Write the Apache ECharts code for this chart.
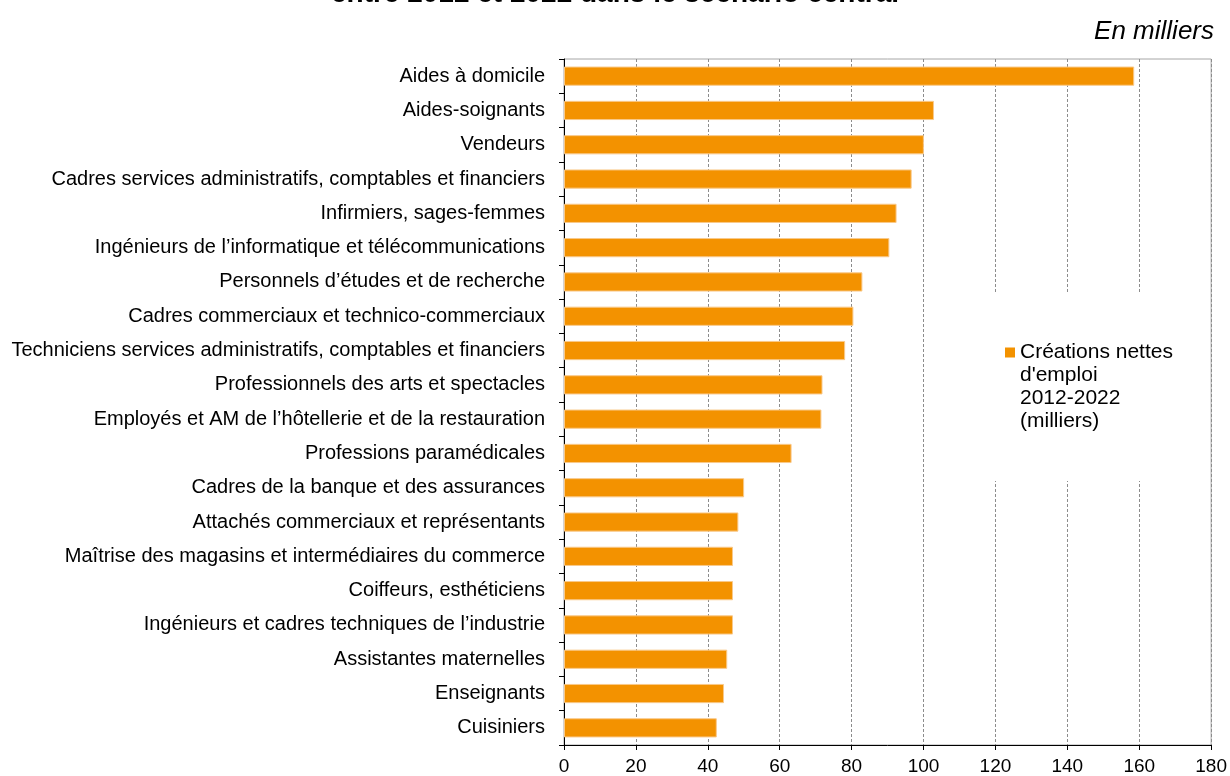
<!DOCTYPE html>
<html>
<head>
<meta charset="utf-8">
<script src="https://cdn.jsdelivr.net/npm/echarts@6/dist/echarts.min.js"></script>
<style>
html,body{margin:0;padding:0;background:#fff;}
#chart{width:1230px;height:776px;}
</style>
</head>
<body>
<div id="chart"></div>
<script>
const titleText = "entre 2012 et 2022 dans le scénario central";
const unitText = "En milliers";
const seriesName = "Créations nettes\nd'emploi\n2012-2022\n(milliers)";
const categories = [
  "Aides à domicile",
  "Aides-soignants",
  "Vendeurs",
  "Cadres services administratifs, comptables et financiers",
  "Infirmiers, sages-femmes",
  "Ingénieurs de l’informatique et télécommunications",
  "Personnels d’études et de recherche",
  "Cadres commerciaux et technico-commerciaux",
  "Techniciens services administratifs, comptables et financiers",
  "Professionnels des arts et spectacles",
  "Employés et AM de l’hôtellerie et de la restauration",
  "Professions paramédicales",
  "Cadres de la banque et des assurances",
  "Attachés commerciaux et représentants",
  "Maîtrise des magasins et intermédiaires du commerce",
  "Coiffeurs, esthéticiens",
  "Ingénieurs et cadres techniques de l’industrie",
  "Assistantes maternelles",
  "Enseignants",
  "Cuisiniers"
];
const values = [158.6, 102.9, 100.1, 96.7, 92.5, 90.5, 83.0, 80.5, 78.2, 71.9, 71.6, 63.3, 50.1, 48.5, 47.0, 47.0, 47.0, 45.4, 44.5, 42.5];
const xTicks = [0, 20, 40, 60, 80, 100, 120, 140, 160, 180];

const FONT = "Liberation Sans, Arial, sans-serif";
const chart = echarts.init(document.getElementById('chart'), null, {renderer: 'canvas'});
chart.setOption({
  animation: false,
  backgroundColor: '#fff',
  textStyle: {fontFamily: FONT},
  title: [
    {text: titleText, left: 'center', top: -25,
     textStyle: {fontFamily: FONT, fontSize: 28, fontWeight: 'bold', color: '#000'}},
    {text: unitText, right: 11, top: 14,
     textStyle: {fontFamily: FONT, fontSize: 26, fontStyle: 'italic', fontWeight: 'normal', color: '#000'}}
  ],
  grid: {left: 564, right: 17, top: 59, bottom: 30, show: true, borderColor: '#a6a6a6', borderWidth: 1, backgroundColor: 'transparent'},
  legend: {
    left: 1005, top: 272, padding: 0,
    icon: 'rect', itemWidth: 10, itemHeight: 10, itemGap: 5,
    itemStyle: {borderWidth: 0, color: '#F39200'},
    data: [seriesName],
    formatter: function (name) { return '\n\n\n' + name; },
    textStyle: {fontFamily: FONT, fontSize: 21, color: '#000', lineHeight: 23}
  },
  graphic: [
    {type: 'rect', z: 1, shape: {x: 985, y: 293, width: 215, height: 188}, style: {fill: '#fff'}, silent: true}
  ],
  xAxis: {
    type: 'value', min: xTicks[0], max: xTicks[xTicks.length - 1], interval: 20,
    axisLine: {show: true, lineStyle: {color: '#000', width: 1}},
    axisTick: {show: true, length: 5, lineStyle: {color: '#000'}},
    axisLabel: {fontFamily: FONT, fontSize: 19, color: '#000', margin: 12},
    splitLine: {show: true, lineStyle: {color: '#8c8c8c', type: [3, 2], width: 1}}
  },
  yAxis: {
    type: 'category', data: categories, inverse: true,
    axisLine: {show: true, lineStyle: {color: '#000', width: 1}},
    axisTick: {show: true, length: 5, lineStyle: {color: '#000'}},
    axisLabel: {fontFamily: FONT, fontSize: 20, color: '#000', margin: 19},
    splitLine: {show: false}
  },
  series: [{
    name: seriesName,
    type: 'bar',
    data: values,
    barCategoryGap: '44%',
    itemStyle: {color: '#F39200', borderColor: '#f9c98a', borderWidth: 1},
    z: 2
  }]
});
</script>
</body>
</html>
